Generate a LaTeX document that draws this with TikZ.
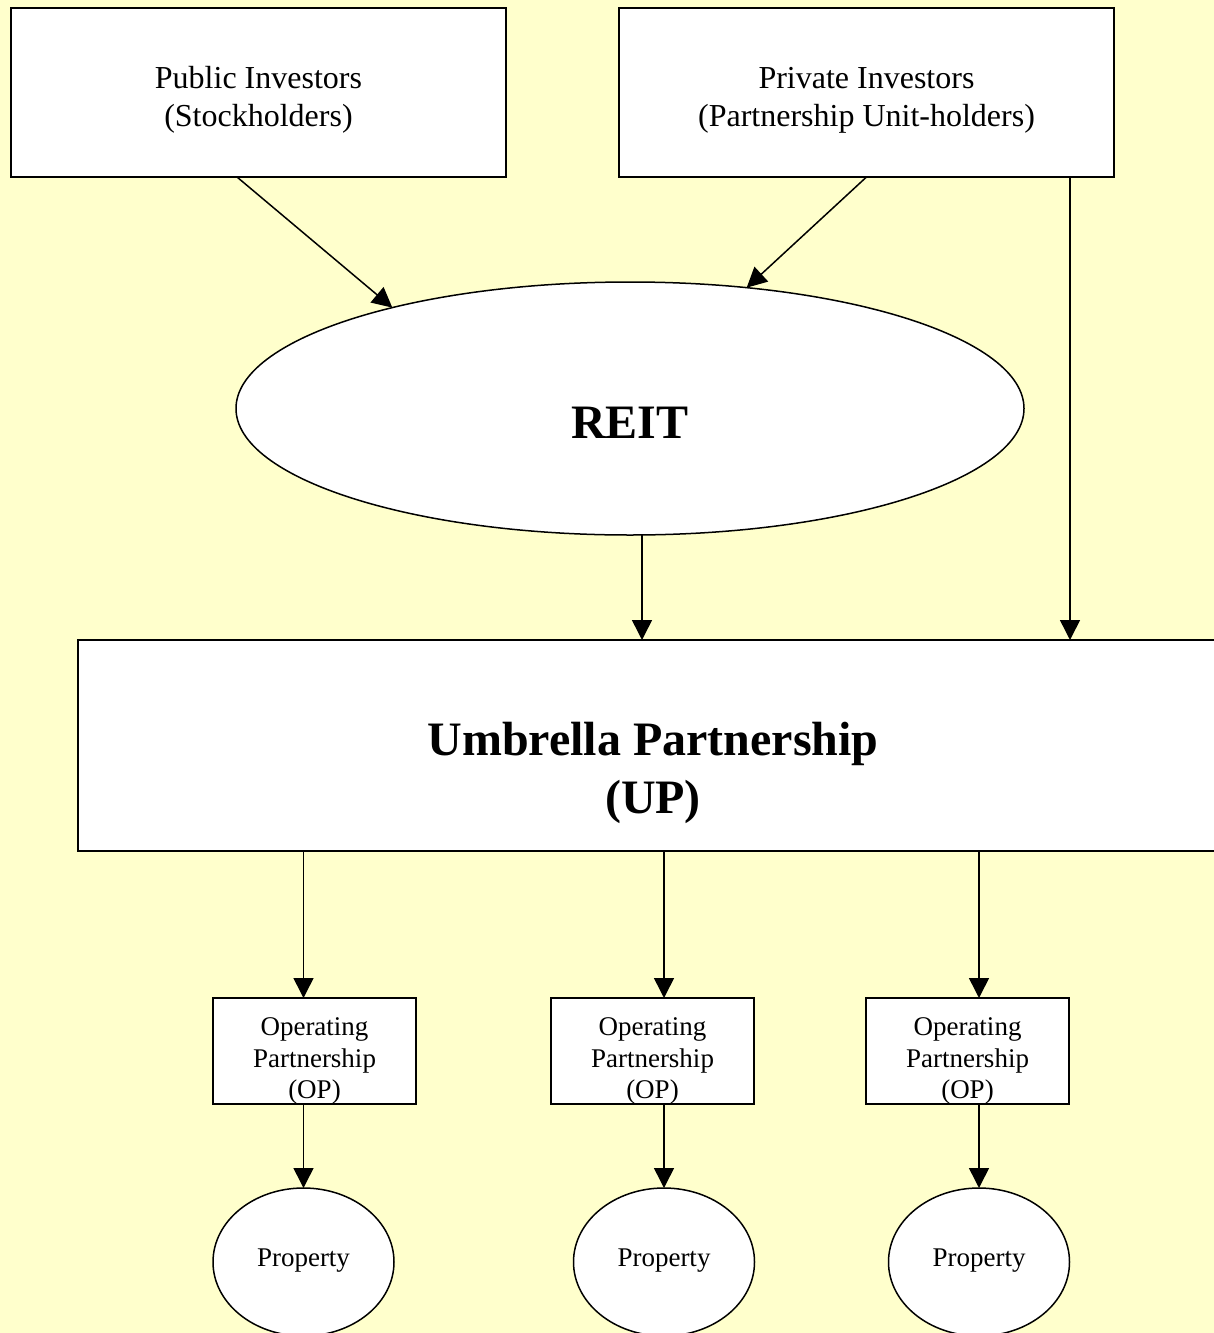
\documentclass[tikz,border=0pt]{standalone}
\usepackage{fontspec}
\setmainfont{Liberation Serif}
\usetikzlibrary{shapes.geometric,arrows.meta,calc}
\definecolor{bgyellow}{HTML}{FFFFCC}
\tikzset{
  shp/.style={draw=black, line width=1.5pt, fill=white, inner sep=0pt, outer sep=0pt},
  boxn/.style={shp, rectangle},
  ovaln/.style={shp, ellipse},
  txt/.style={align=center, inner sep=0pt, text=black},
  arr/.style={line width=1.5pt, -{Triangle[length=20pt,width=20pt]}}
}
\begin{document}
\begin{tikzpicture}[x=1pt,y=-1pt]
\fill[bgyellow] (0,0) rectangle (1214,1333);
\useasboundingbox (0,0) rectangle (1214,1333);

% top boxes
\node[boxn, minimum width=495, minimum height=169] (pub) at (258.5,92.5) {};
\node[txt, font=\fontsize{32}{38}\selectfont] (pubt) at (258.5,100) {Public Investors\\(Stockholders)};
\node[boxn, minimum width=495, minimum height=169] (priv) at (866.5,92.5) {};
\node[txt, font=\fontsize{32}{38}\selectfont] (privt) at (866.5,100) {Private Investors\\(Partnership Unit-holders)};

% REIT
\node[ovaln, minimum width=788, minimum height=253] (reit) at (630,408.5) {};
\node[txt, font=\fontsize{48}{55}\bfseries] (reitt) at (630,423) {REIT};

% UP
\node[boxn, minimum width=1160, minimum height=211] (up) at (658,745.5) {};
\node[txt, font=\fontsize{48}{58}\selectfont\bfseries] (upt) at (653,773) {Umbrella Partnership\\(UP)};

% OPs
\foreach \i/\bx/\px in {1/314.5/303.5, 2/652.5/664, 3/967.5/979}{
  \node[boxn, minimum width=203, minimum height=106] (op\i) at (\bx,1051) {};
  \node[txt, font=\fontsize{27}{31.5}\selectfont] (op\i t) at (\bx,1061) {Operating\\Partnership\\(OP)};
  \node[ovaln, minimum width=181, minimum height=148] (prop\i) at (\px,1262) {};
  \node[txt, font=\fontsize{27}{31}\selectfont] (prop\i t) at (\px,1261) {Property};
}

% connectors
\draw[arr] ($(pub.south)+(-21.5,0)$) -- (reit.157);
\draw[arr] (priv.south) -- (reit.46.5);
\draw[arr] ($(priv.south east)+(-44,0)$) coordinate (pv) -- (pv |- up.north);
\draw[arr] ($(reit.south)+(12,0)$) coordinate (rv) -- (rv |- up.north);
\foreach \i in {1,2,3}{
  \draw[arr] (prop\i.north |- up.south) -- (prop\i.north |- op\i.north);
  \draw[arr] (prop\i.north |- op\i.south) -- (prop\i.north);
}
\end{tikzpicture}
\end{document}
